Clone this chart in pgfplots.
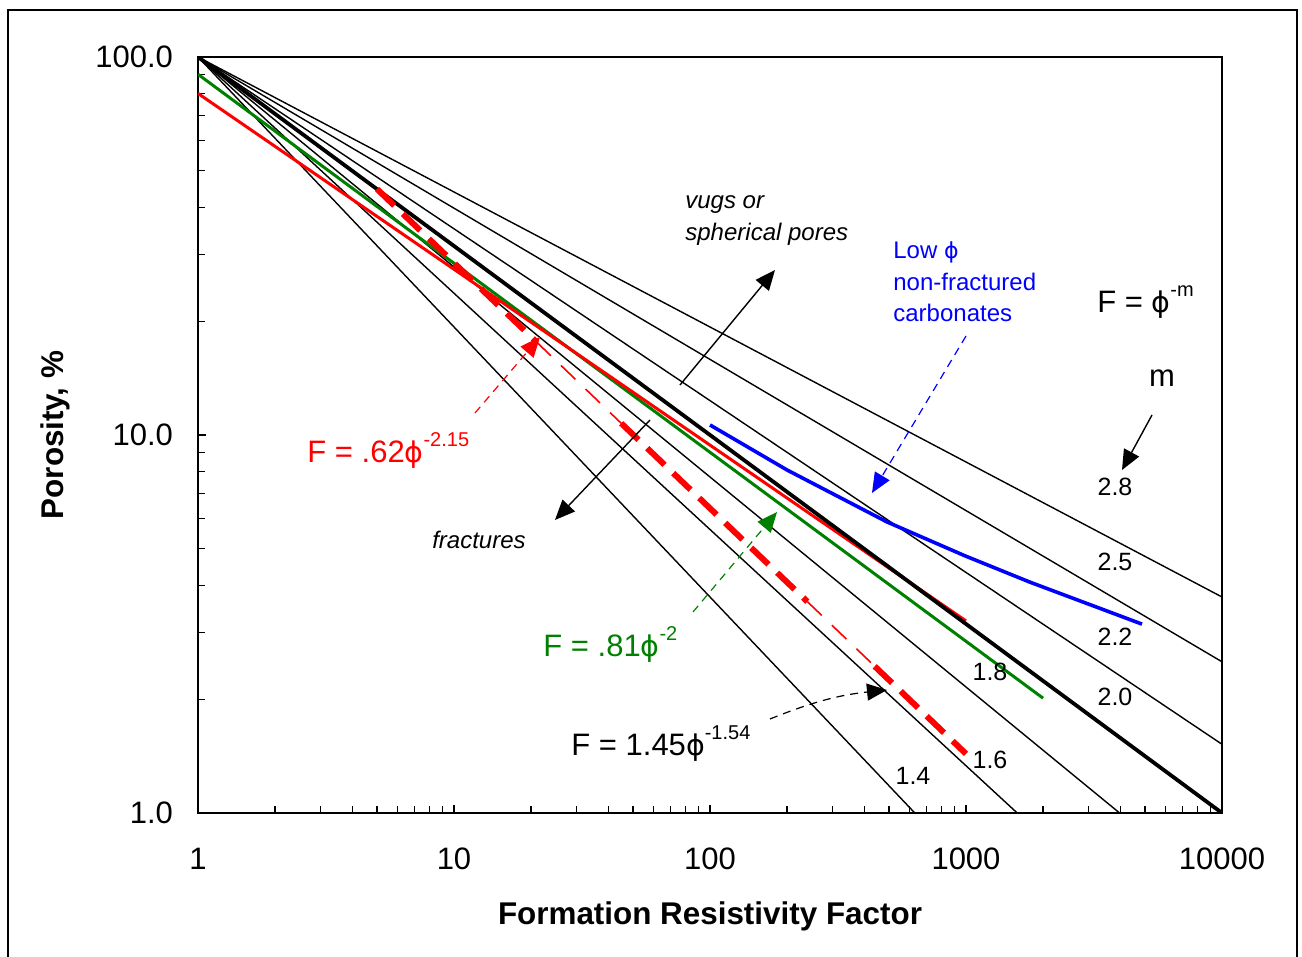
\documentclass[border=0pt]{standalone}
\usepackage{fontspec}
\setmainfont{Liberation Sans}
\newfontfamily\dv{DejaVu Sans}
\usepackage{pgfplots}
\pgfplotsset{compat=1.18}
\usetikzlibrary{arrows.meta}
\definecolor{dgreen}{RGB}{0,128,0}
\newcommand{\ph}{{\dv\fontsize{0.92em}{1em}\selectfont ϕ}}

\begin{document}
\begin{tikzpicture}[x=1pt,y=1pt]
\useasboundingbox (-99,-72) rectangle (552,406.5);
\draw[line width=1pt] (-95,-80) -- (-95,401.5) -- (549.5,401.5) -- (549.5,-80);
\begin{axis}[at={(0,0)}, anchor=south west, scale only axis, width=512pt, height=378pt,
 xmode=log, ymode=log, xmin=1, xmax=10000, ymin=1, ymax=100,
 axis line style={line width=1pt},
 xtick={1,10,100,1000,10000}, xticklabels={1,10,100,1000,10000},
 ytick={1,10,100}, yticklabels={1.0,10.0,100.0},
 minor xtick={2,3,4,5,6,7,8,9,20,30,40,50,60,70,80,90,200,300,400,500,600,700,800,900,2000,3000,4000,5000,6000,7000,8000,9000},
 minor ytick={2,3,4,5,6,7,8,9,20,30,40,50,60,70,80,90},
 tick align=inside, xtick pos=left, ytick pos=left,
 major tick length=4pt, minor tick length=3.3pt,
 every tick/.style={black, line width=0.6pt},
 tick label style={font=\fontsize{15.5}{18}\selectfont},
 xticklabel style={yshift=-14pt},
 yticklabel style={xshift=-9pt},
 xlabel={Formation Resistivity Factor}, ylabel={Porosity, \%},
 label style={font=\bfseries\fontsize{15.7}{18}\selectfont},
 xlabel style={at={(axis description cs:0.5,-0.1363)}, anchor=center},
 ylabel style={at={(axis description cs:-0.1396,0.5)}, anchor=center},
]
% F = phi^-m lines
\addplot[black, line width=0.7pt] coordinates {(1,100) (630.96,1)};   % m=1.4
\addplot[black, line width=0.7pt] coordinates {(1,100) (1584.9,1)};   % m=1.6
\addplot[black, line width=0.7pt] coordinates {(1,100) (3981.1,1)};   % m=1.8
\addplot[black, line width=0.7pt] coordinates {(1,100) (10000,1.5199)}; % m=2.2
\addplot[black, line width=0.7pt] coordinates {(1,100) (10000,2.5119)}; % m=2.5
\addplot[black, line width=0.7pt] coordinates {(1,100) (10000,3.7276)}; % m=2.8
% F = .81 phi^-2
\addplot[dgreen, line width=1.5pt] coordinates {(1,90) (2000,2.0125)};
% F = .62 phi^-2.15
\addplot[red, line width=1.5pt] coordinates {(1,80.08) (1000,3.222)};
% m = 2.0 (thick)
\addplot[black, line width=1.9pt] coordinates {(1,100) (10000,1)};
% Low phi non-fractured carbonates
\addplot[blue, line width=1.8pt] coordinates {(100,10.63) (200,8.08) (491,5.89) (991,4.79) (1778,4.08) (4870,3.16)};
% F = 1.45 phi^-1.54
\addplot[red, line width=3pt, dash pattern=on 12pt off 6pt] coordinates {(5,44.76) (21,17.63)};
\addplot[red, line width=0.8pt, dash pattern=on 10pt off 7pt] coordinates {(21,17.63) (45,10.74)};
\addplot[red, line width=3pt, dash pattern=on 12pt off 6pt] coordinates {(45,10.74) (240,3.624)};
\addplot[red, line width=0.8pt, dash pattern=on 10pt off 7pt] coordinates {(240,3.624) (440,2.444)};
\addplot[red, line width=3pt, dash pattern=on 12pt off 6pt] coordinates {(440,2.444) (1000,1.434)};
\end{axis}

% annotations
\tikzset{ah/.style={-{Triangle[length=10pt,width=8.5pt]}}}
\node[align=left, anchor=west, inner sep=0, font=\itshape\fontsize{12}{16}\selectfont] at (243.5,296) {vugs or\\spherical pores};
\draw[ah, line width=0.7pt] (241,214) -- (288.5,271.5);
\draw[ah, line width=0.7pt] (226,196.5) -- (178.5,146.5);
\node[inner sep=0, font=\itshape\fontsize{12}{16}\selectfont] at (140.5,136.5) {fractures};

\node[anchor=base west, inner sep=0, text=red, font=\fontsize{15.5}{18}\selectfont] at (54.5,175) {F = .62\ph\raisebox{8.3pt}{\fontsize{10}{12}\selectfont -2.15}};
\draw[ah, red, line width=0.6pt, dash pattern=on 4pt off 3pt] (138.5,200) -- (171,238);

\node[anchor=base west, inner sep=0, text=dgreen, font=\fontsize{15.5}{18}\selectfont] at (172.5,78) {F = .81\ph\raisebox{8.3pt}{\fontsize{10}{12}\selectfont -2}};
\draw[ah, dgreen, line width=0.6pt, dash pattern=on 4pt off 3pt] (247.5,100.5) -- (289.5,150.5);

\node[anchor=base west, inner sep=0, font=\fontsize{15.5}{18}\selectfont] at (186.5,28.5) {F = 1.45\ph\raisebox{8.3pt}{\fontsize{10}{12}\selectfont -1.54}};
\draw[ah, line width=0.6pt, dash pattern=on 4pt off 3pt] (286,47) to[bend left=8] (344.5,61.5);

\node[align=left, anchor=west, inner sep=0, text=blue, font=\fontsize{12}{15.75}\selectfont] at (347.5,265.5) {Low \ph\\non-fractured\\carbonates};
\draw[ah, blue, line width=0.6pt, dash pattern=on 4pt off 3pt] (384,238.5) -- (337,160);

\node[anchor=base west, inner sep=0, font=\fontsize{15.5}{18}\selectfont] at (449.5,250) {F = \ph\raisebox{8.3pt}{\fontsize{10}{12}\selectfont -m}};
\node[anchor=base, inner sep=0, font=\fontsize{15.5}{18}\selectfont] at (482,213) {m};
\draw[ah, line width=0.7pt] (477,199) -- (462,171.5);

\tikzset{ml/.style={inner sep=0, font=\fontsize{12.5}{14}\selectfont}}
\node[ml] at (458.5,163) {2.8};
\node[ml] at (458.5,125.5) {2.5};
\node[ml] at (458.5,88) {2.2};
\node[ml] at (458.5,58) {2.0};
\node[ml] at (396,70.5) {1.8};
\node[ml] at (396,26.5) {1.6};
\node[ml] at (357.5,18.5) {1.4};
\end{tikzpicture}
\end{document}
